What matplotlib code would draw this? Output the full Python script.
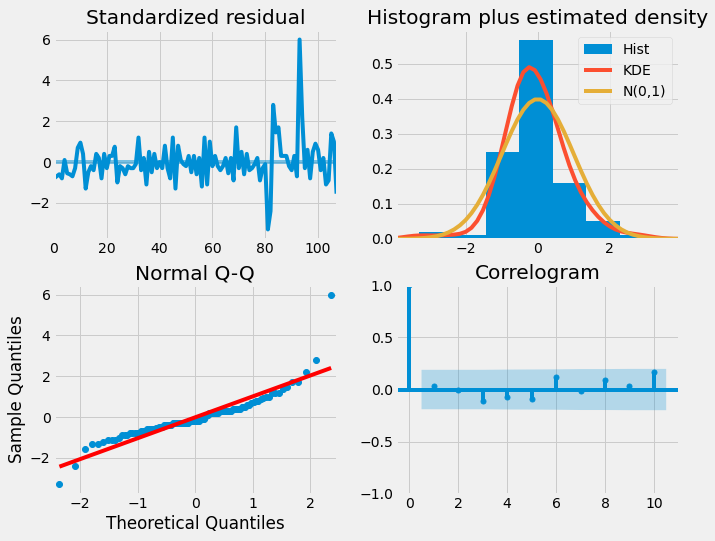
import numpy as np
import matplotlib
matplotlib.use("Agg")
import matplotlib.pyplot as plt
from math import erf, sqrt

plt.style.use('fivethirtyeight')

# standardized residuals (index 0..107)
resid = np.array([
    -0.8, -0.7, -0.6, -0.8, 0.1, -0.55, -0.6, -0.7, -0.3, 0.7,
    0.95, 0.4, -1.3, -0.5, -0.2, -0.4, 0.4, 0.2, -0.8, 0.4,
    -0.3, 0.3, 0.3, 0.75, -1.0, -0.2, -0.3, -0.6, -0.2, -0.3,
    -0.3, -0.1, 1.2, -0.4, 0.2, -1.1, 0.5, -0.5, 0.4, -0.3,
    0.0, -0.3, 0.8, -0.3, -0.8, 1.2, -1.3, 0.8, 0.1, -0.1,
    -0.2, 0.3, -0.5, 0.3, -0.6, 0.2, -1.2, 1.2, -1.1, 1.0,
    -0.2, 0.3, -0.2, -0.4, -0.2, 0.2, -0.55, 0.2, -0.9, 1.7,
    -0.3, 0.5, -0.6, 0.4, -0.4, -0.3, -0.1, 0.2, -0.9, -0.3,
    -0.1, -3.3, -2.4, 2.8, 1.45, 1.7, 0.3, 0.3, 0.3, -0.2,
    -0.4, 0.3, -0.7, 6.0, 2.2, -0.3, 0.6, -0.8, 0.5, 0.9,
    0.6, -0.4, 0.2, -1.1, -0.9, 1.4, 1.0, -1.55,
])
ix = np.arange(len(resid))

# autocorrelations
acf_lags = np.arange(11)
acf_vals = np.array([1.0, 0.03, 0.0, -0.11, -0.07, -0.09, 0.12, -0.01, 0.09, 0.03, 0.17])

fig, axes = plt.subplots(2, 2, figsize=(715 / 72, 541 / 72), dpi=72)
fig.subplots_adjust(left=0.0755, right=0.9497, top=0.9445, bottom=0.0869,
                    wspace=0.212, hspace=0.221)

# Standardized residual
ax = axes[0, 0]
ax.plot(ix, resid)
ax.hlines(0, ix[0], ix[-1], alpha=0.5)
ax.set_xlim(ix[0], ix[-1])
ax.set_title('Standardized residual')

# Histogram plus estimated density
ax = axes[0, 1]
n = len(resid)
ax.hist(resid, density=True, label='Hist')
xlim = (-1.96 * 2, 1.96 * 2)
x = np.linspace(xlim[0], xlim[1])
bw = np.std(resid, ddof=1) * n ** (-1 / 5)
kde = np.exp(-0.5 * ((x[:, None] - resid[None, :]) / bw) ** 2).sum(axis=1) / (n * bw * np.sqrt(2 * np.pi))
ax.plot(x, kde, label='KDE')
ax.plot(x, np.exp(-x ** 2 / 2) / np.sqrt(2 * np.pi), label='N(0,1)')
ax.set_xlim(xlim)
ax.legend()
ax.set_title('Histogram plus estimated density')

# Normal Q-Q
ax = axes[1, 0]
# inverse normal cdf by bisection (no scipy)
def norm_ppf(p):
    lo, hi = -10.0, 10.0
    for _ in range(80):
        mid = (lo + hi) / 2
        if 0.5 * (1 + erf(mid / sqrt(2))) < p:
            lo = mid
        else:
            hi = mid
    return (lo + hi) / 2
pos = np.arange(1, n + 1) / (n + 1)
theo = np.array([norm_ppf(p) for p in pos])
samp = np.sort(resid)
ax.plot(theo, samp, marker='o', markerfacecolor='C0', markeredgecolor='C0', linestyle='None')
ax.set_xmargin(0.02)
m, b = np.std(samp), np.mean(samp)
ax.plot(theo, m * theo + b, 'r')
ax.set_xlabel('Theoretical Quantiles')
ax.set_ylabel('Sample Quantiles')
ax.set_title('Normal Q-Q')

# Correlogram
ax = axes[1, 1]
ax.vlines(acf_lags, [0], acf_vals)
ax.axhline(0)
ax.plot(acf_lags, acf_vals, marker='o', markersize=5, linestyle='None', color='C0')
varacf = np.ones(len(acf_vals)) / n
varacf[2:] *= 1 + 2 * np.cumsum(acf_vals[1:-1] ** 2)
half = 1.96 * np.sqrt(varacf)
band_x = acf_lags[1:].astype(float)
band_x[0] -= 0.5
band_x[-1] += 0.5
ax.fill_between(band_x, -half[1:], half[1:], alpha=0.25)
ax.set_ylim(-1, 1)
ax.set_title('Correlogram')

fig.savefig('out.png', dpi=72)
